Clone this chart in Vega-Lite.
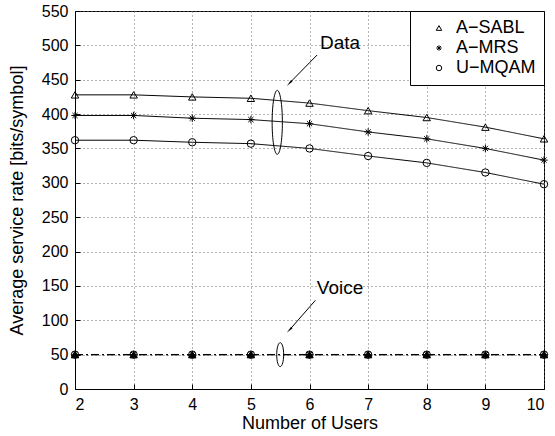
{
  "$schema": "https://vega.github.io/schema/vega-lite/v6.json",
  "autosize": "none",
  "width": 469,
  "height": 378,
  "padding": {"left": 75, "top": 11, "right": 11, "bottom": 47},
  "background": "white",
  "config": {
    "font": "Liberation Sans",
    "view": {"stroke": "black", "strokeWidth": 1},
    "axis": {
      "domainColor": "black", "tickColor": "black", "labelColor": "black", "titleColor": "black",
      "labelFontSize": 16, "titleFontSize": 18, "titleFontWeight": "normal",
      "gridColor": "#666", "gridDash": [1, 3], "gridWidth": 1,
      "tickSize": -5, "labelPadding": 12
    },
    "legend": {"labelFontSize": 18, "labelColor": "black"}
  },
  "datasets": {
    "main": [
      {"n": 2, "s": "A−SABL", "t": "Data", "v": 428},
      {"n": 3, "s": "A−SABL", "t": "Data", "v": 428},
      {"n": 4, "s": "A−SABL", "t": "Data", "v": 425},
      {"n": 5, "s": "A−SABL", "t": "Data", "v": 423},
      {"n": 6, "s": "A−SABL", "t": "Data", "v": 416},
      {"n": 7, "s": "A−SABL", "t": "Data", "v": 405},
      {"n": 8, "s": "A−SABL", "t": "Data", "v": 395},
      {"n": 9, "s": "A−SABL", "t": "Data", "v": 381},
      {"n": 10, "s": "A−SABL", "t": "Data", "v": 364},
      {"n": 2, "s": "A−MRS", "t": "Data", "v": 398},
      {"n": 3, "s": "A−MRS", "t": "Data", "v": 398},
      {"n": 4, "s": "A−MRS", "t": "Data", "v": 394},
      {"n": 5, "s": "A−MRS", "t": "Data", "v": 392},
      {"n": 6, "s": "A−MRS", "t": "Data", "v": 386},
      {"n": 7, "s": "A−MRS", "t": "Data", "v": 374},
      {"n": 8, "s": "A−MRS", "t": "Data", "v": 364},
      {"n": 9, "s": "A−MRS", "t": "Data", "v": 350},
      {"n": 10, "s": "A−MRS", "t": "Data", "v": 333},
      {"n": 2, "s": "U−MQAM", "t": "Data", "v": 362},
      {"n": 3, "s": "U−MQAM", "t": "Data", "v": 362},
      {"n": 4, "s": "U−MQAM", "t": "Data", "v": 359},
      {"n": 5, "s": "U−MQAM", "t": "Data", "v": 357},
      {"n": 6, "s": "U−MQAM", "t": "Data", "v": 350},
      {"n": 7, "s": "U−MQAM", "t": "Data", "v": 339},
      {"n": 8, "s": "U−MQAM", "t": "Data", "v": 329},
      {"n": 9, "s": "U−MQAM", "t": "Data", "v": 315},
      {"n": 10, "s": "U−MQAM", "t": "Data", "v": 298},
      {"n": 2, "s": "A−SABL", "t": "Voice", "v": 50},
      {"n": 3, "s": "A−SABL", "t": "Voice", "v": 50},
      {"n": 4, "s": "A−SABL", "t": "Voice", "v": 50},
      {"n": 5, "s": "A−SABL", "t": "Voice", "v": 50},
      {"n": 6, "s": "A−SABL", "t": "Voice", "v": 50},
      {"n": 7, "s": "A−SABL", "t": "Voice", "v": 50},
      {"n": 8, "s": "A−SABL", "t": "Voice", "v": 50},
      {"n": 9, "s": "A−SABL", "t": "Voice", "v": 50},
      {"n": 10, "s": "A−SABL", "t": "Voice", "v": 50},
      {"n": 2, "s": "A−MRS", "t": "Voice", "v": 50},
      {"n": 3, "s": "A−MRS", "t": "Voice", "v": 50},
      {"n": 4, "s": "A−MRS", "t": "Voice", "v": 50},
      {"n": 5, "s": "A−MRS", "t": "Voice", "v": 50},
      {"n": 6, "s": "A−MRS", "t": "Voice", "v": 50},
      {"n": 7, "s": "A−MRS", "t": "Voice", "v": 50},
      {"n": 8, "s": "A−MRS", "t": "Voice", "v": 50},
      {"n": 9, "s": "A−MRS", "t": "Voice", "v": 50},
      {"n": 10, "s": "A−MRS", "t": "Voice", "v": 50},
      {"n": 2, "s": "U−MQAM", "t": "Voice", "v": 50},
      {"n": 3, "s": "U−MQAM", "t": "Voice", "v": 50},
      {"n": 4, "s": "U−MQAM", "t": "Voice", "v": 50},
      {"n": 5, "s": "U−MQAM", "t": "Voice", "v": 50},
      {"n": 6, "s": "U−MQAM", "t": "Voice", "v": 50},
      {"n": 7, "s": "U−MQAM", "t": "Voice", "v": 50},
      {"n": 8, "s": "U−MQAM", "t": "Voice", "v": 50},
      {"n": 9, "s": "U−MQAM", "t": "Voice", "v": 50},
      {"n": 10, "s": "U−MQAM", "t": "Voice", "v": 50}
    ],
    "arrows": [
      {"x": 6.13, "y": 486, "x2": 5.67, "y2": 446},
      {"x": 6.10, "y": 129, "x2": 5.67, "y2": 87}
    ],
    "labels": [
      {"x": 6.52, "y": 503, "label": "Data"},
      {"x": 6.52, "y": 147, "label": "Voice"}
    ]
  },
  "encoding": {
    "x": {"field": "n", "type": "quantitative", "scale": {"domain": [2, 10], "nice": false},
          "axis": {"values": [2, 3, 4, 5, 6, 7, 8, 9, 10], "title": "Number of Users", "titlePadding": 2}},
    "y": {"field": "v", "type": "quantitative", "scale": {"domain": [0, 550], "nice": false},
          "axis": {"values": [0, 50, 100, 150, 200, 250, 300, 350, 400, 450, 500, 550], "title": "Average service rate [bits/symbol]", "titlePadding": 15}}
  },
  "layer": [
    {
      "data": {"name": "main"},
      "mark": {"type": "line", "color": "black", "strokeWidth": 1},
      "encoding": {
        "detail": {"field": "s"},
        "strokeDash": {"field": "t", "type": "nominal", "scale": {"domain": ["Data", "Voice"], "range": [[1, 0], [8, 3, 2, 3]]}, "legend": null}
      }
    },
    {
      "data": {"name": "main"},
      "transform": [{"filter": "datum.t == 'Voice' && datum.s == 'A−SABL'"}],
      "mark": {"type": "point", "shape": "triangle-up", "filled": true, "color": "black", "size": 55, "opacity": 1}
    },
    {
      "data": {"name": "main"},
      "mark": {"type": "point", "filled": false, "color": "black", "strokeWidth": 1, "size": 55, "opacity": 1},
      "encoding": {
        "shape": {"field": "s", "type": "nominal",
          "scale": {"domain": ["A−SABL", "A−MRS", "U−MQAM"],
                    "range": ["triangle-up", "M-1,0L1,0M0,-1L0,1M-0.7,-0.7L0.7,0.7M-0.7,0.7L0.7,-0.7", "circle"]},
          "legend": {"title": null, "orient": "top-right", "offset": 0, "strokeColor": "black", "fillColor": "white",
                     "padding": 8, "rowPadding": 2, "symbolStrokeColor": "black", "symbolStrokeWidth": 1, "symbolSize": 30,
                     "labelOffset": 8, "symbolOffset": 12}}
      }
    },
    {
      "data": {"values": [{"n": 5.45, "v": 388}]},
      "mark": {"type": "point", "filled": false, "color": "black", "strokeWidth": 1, "size": 4096, "opacity": 1,
               "shape": "M0,-1C0.088,-1 0.16,-0.552 0.16,0C0.16,0.552 0.088,1 0,1C-0.088,1 -0.16,0.552 -0.16,0C-0.16,-0.552 -0.088,-1 0,-1Z"}
    },
    {
      "data": {"values": [{"n": 5.5, "v": 50}]},
      "mark": {"type": "point", "filled": false, "color": "black", "strokeWidth": 1, "size": 576, "opacity": 1,
               "shape": "M0,-1C0.16,-1 0.29,-0.552 0.29,0C0.29,0.552 0.16,1 0,1C-0.16,1 -0.29,0.552 -0.29,0C-0.29,-0.552 -0.16,-1 0,-1Z"}
    },
    {
      "data": {"name": "arrows"},
      "mark": {"type": "rule", "color": "black", "strokeWidth": 1},
      "encoding": {
        "x": {"field": "x", "type": "quantitative"},
        "y": {"field": "y", "type": "quantitative"},
        "x2": {"field": "x2"},
        "y2": {"field": "y2"}
      }
    },
    {
      "data": {"name": "arrows"},
      "mark": {"type": "point", "shape": "wedge", "filled": true, "color": "black", "size": 70, "angle": 224, "opacity": 1},
      "encoding": {
        "x": {"field": "x2", "type": "quantitative"},
        "y": {"field": "y2", "type": "quantitative"}
      }
    },
    {
      "data": {"name": "labels"},
      "mark": {"type": "text", "fontSize": 19, "color": "black", "align": "center", "baseline": "middle"},
      "encoding": {
        "x": {"field": "x", "type": "quantitative"},
        "y": {"field": "y", "type": "quantitative"},
        "text": {"field": "label"}
      }
    }
  ]
}
